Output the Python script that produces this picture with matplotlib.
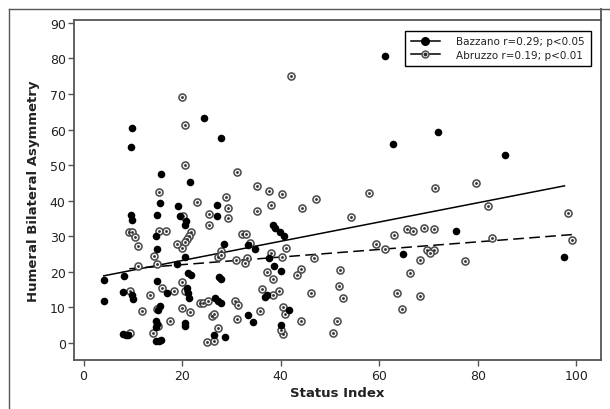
import matplotlib
matplotlib.use("Agg")
import matplotlib.pyplot as plt
from matplotlib.lines import Line2D

plt.rcParams["font.family"] = ["DejaVu Sans"]

# Bazzano sample (status index, humeral bilateral asymmetry)
bazzano_x = [9.8, 24.5, 27.9, 9.6, 15.7, 21.6, 15.5, 19.2, 27.0, 9.6,
             9.8, 14.9, 19.5, 27.1, 20.7, 20.6, 38.5, 38.9, 39.9, 40.7,
             14.8, 14.9, 28.6, 33.3, 34.8, 20.6, 37.7, 19.0, 38.7, 40.1,
             8.2, 4.1, 21.3, 21.8, 27.5, 27.9, 14.9, 16.9, 21.0, 21.3,
             21.5, 8.1, 9.8, 10.0, 4.1, 26.7, 27.2, 28.0, 36.9, 37.2,
             15.5, 15.1, 41.7, 33.3, 34.3, 14.7, 14.9, 14.7, 20.6, 20.6,
             40.1, 8.1, 8.6, 9.0, 26.5, 28.7, 14.7, 15.3, 15.7, 61.1,
             72.0, 62.8, 85.6, 75.5, 64.9, 97.5]
bazzano_y = [60.5, 63.2, 57.6, 55.1, 47.4, 45.4, 39.3, 38.6, 38.9, 36.0,
             34.6, 36.0, 35.8, 35.8, 34.4, 33.3, 33.3, 32.3, 31.3, 30.2,
             30.2, 26.4, 27.8, 27.6, 26.4, 24.1, 23.8, 22.2, 21.7, 20.2,
             18.9, 17.8, 19.7, 19.1, 18.5, 18.0, 17.5, 14.0, 15.4, 14.1,
             12.7, 14.3, 13.5, 12.4, 11.9, 12.6, 11.9, 11.4, 12.9, 13.5,
             10.5, 9.4, 9.4, 7.9, 6.0, 6.3, 5.3, 4.4, 5.6, 4.7,
             5.2, 2.5, 2.3, 2.3, 2.3, 1.8, 0.6, 0.6, 0.8, 80.6,
             59.3, 56.0, 53.0, 31.4, 25.1, 24.1]

# Abruzzo sample
abruzzo_x = [19.9, 20.6, 20.6, 31.2, 35.2, 37.7, 15.4, 40.3, 28.9, 23.1,
             38.1, 29.4, 44.3, 35.2, 25.4, 20.2, 29.4, 25.5, 42.2, 79.7,
             71.3, 58.0, 47.2, 82.1, 98.4, 54.2, 63.0, 65.7, 66.8, 69.0,
             71.1, 82.8, 99.2, 59.4, 61.1, 41.0, 40.2, 46.7, 69.7, 71.1,
             70.3, 68.3, 77.5, 44.1, 43.3, 52.1, 66.2, 51.8, 52.6, 46.1,
             63.7, 68.3, 64.7, 39.7, 40.4, 40.9, 44.1, 51.4, 50.7, 40.4,
             40.0, 32.2, 33.0, 33.8, 38.0, 31.0, 33.2, 32.8, 37.2, 38.4,
             36.2, 38.4, 30.8, 31.4, 35.8, 31.2, 9.3, 9.9, 10.4, 11.1,
             15.3, 16.7, 14.3, 21.8, 21.4, 21.0, 20.6, 19.9, 18.9, 27.8,
             27.2, 27.8, 14.9, 11.1, 19.9, 16.0, 18.3, 20.6, 13.5, 9.4,
             23.6, 24.3, 25.2, 11.8, 14.9, 20.0, 21.6, 26.0, 26.5, 17.5,
             15.2, 27.3, 9.4, 14.2, 25.0, 26.5]
abruzzo_y = [69.1, 61.4, 50.1, 48.0, 44.2, 42.7, 42.4, 41.8, 41.0, 39.7,
             38.8, 38.0, 37.9, 37.0, 36.3, 35.6, 35.1, 33.3, 75.2, 45.0,
             43.5, 42.1, 40.5, 38.6, 36.7, 35.5, 30.5, 32.1, 31.5, 32.3,
             32.2, 29.4, 29.1, 27.8, 26.4, 26.7, 24.3, 24.0, 26.2, 26.2,
             25.3, 23.4, 23.1, 20.8, 19.2, 20.5, 19.6, 16.1, 12.8, 14.2,
             14.2, 13.1, 9.6, 14.6, 10.0, 8.2, 6.3, 6.3, 2.8, 2.6,
             3.7, 30.6, 30.6, 28.1, 25.3, 23.4, 23.8, 22.4, 19.9, 17.9,
             15.2, 13.5, 11.7, 10.7, 8.9, 6.7, 31.1, 31.1, 29.7, 27.4,
             31.4, 31.4, 24.4, 31.1, 30.2, 29.2, 28.3, 26.8, 27.8, 26.0,
             24.1, 24.8, 22.2, 21.7, 17.2, 15.5, 14.5, 14.5, 13.5, 14.7,
             11.4, 11.2, 11.9, 9.1, 9.6, 9.8, 8.6, 7.7, 8.2, 6.3,
             4.7, 4.2, 2.8, 2.8, 0.4, 0.6]

# fitted regression lines (end points)
bazzano_fit_x = [4.1, 97.6]
bazzano_fit_y = [18.9, 44.2]
abruzzo_fit_x = [9.3, 99.2]
abruzzo_fit_y = [20.9, 30.5]

bazzano_label = "Bazzano r=0.29; p<0.05"
abruzzo_label = "Abruzzo r=0.19; p<0.01"

GREY = "#555555"
TEXT = "#222222"

fig = plt.figure(figsize=(6.1, 4.1), dpi=100)
ax = fig.add_axes([0.1213, 0.1183, 0.8639, 0.8312])

ax.plot(bazzano_fit_x, bazzano_fit_y, color="black", lw=1.1, zorder=2)
ax.plot(abruzzo_fit_x, abruzzo_fit_y, color="black", lw=1.1,
        dashes=(7, 3.5), zorder=2)

ax.scatter(abruzzo_x, abruzzo_y, s=26, facecolor="#f4f4f4", edgecolor="#484848",
           linewidths=1.1, zorder=3)
ax.scatter(abruzzo_x, abruzzo_y, s=4, color="#303030", linewidths=0, zorder=4)
ax.scatter(bazzano_x, bazzano_y, s=30, color="black", linewidths=0, zorder=5)

ax.set_xlim(-1.93, 105.0)
ax.set_ylim(-4.9, 90.9)
ax.set_xticks(range(0, 101, 20))
ax.set_yticks(range(0, 91, 10))

for spine in ax.spines.values():
    spine.set_color(GREY)
    spine.set_linewidth(1.3)
ax.tick_params(direction="out", length=4, width=1.0, color=GREY,
               labelsize=9, labelcolor=TEXT, pad=2)

ax.set_xlabel("Status Index", fontsize=9.5, fontweight="bold", color=TEXT,
              labelpad=3)
ax.set_ylabel("Humeral Bilateral Asymmetry", fontsize=9.5, fontweight="bold",
              color=TEXT, labelpad=7)

# legend with custom handles
h_baz = Line2D([], [], color="black", lw=1.1, marker="o", markersize=5.5,
               mfc="black", mec="black")
h_abr_ring = Line2D([], [], color="black", lw=1.1, marker="o", markersize=5,
                    mfc="#f4f4f4", mec="#484848", mew=1.0)
h_abr_dot = Line2D([], [], ls="none", marker="o", markersize=1.8,
                   mfc="#303030", mec="#303030")
leg = ax.legend([h_baz, (h_abr_ring, h_abr_dot)], [bazzano_label, abruzzo_label],
                loc="upper right", bbox_to_anchor=(0.9805, 0.9677),
                borderaxespad=0, fancybox=False, framealpha=1,
                edgecolor="black", fontsize=7.5, handlelength=2.8,
                handletextpad=1.6, borderpad=0.55, labelspacing=0.35)
leg.get_frame().set_linewidth(1.0)
for t in leg.get_texts():
    t.set_color(TEXT)

# outer frame of the scanned figure
fx = 9 / 610
fy = 1 - 10 / 410
fig.add_artist(Line2D([fx, fx], [0, fy], transform=fig.transFigure,
                      color=GREY, lw=1.0))
fig.add_artist(Line2D([fx, 1], [fy, fy], transform=fig.transFigure,
                      color=GREY, lw=1.0))
fig.add_artist(Line2D([601 / 610, 601 / 610], [0.9495, fy],
                      transform=fig.transFigure, color=GREY, lw=1.3))

fig.savefig("out.png", dpi=100)
